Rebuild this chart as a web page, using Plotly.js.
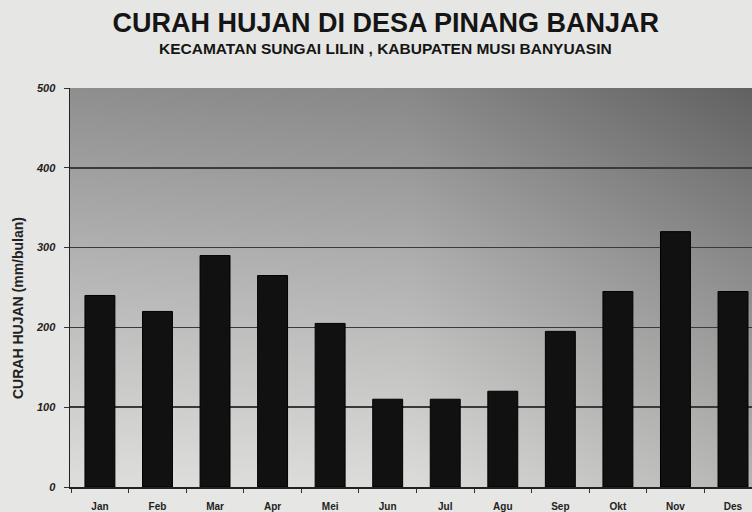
<!DOCTYPE html>
<html>
<head>
<meta charset="utf-8">
<script src="https://cdn.plot.ly/plotly-3.0.1.min.js"></script>
<style>html,body{margin:0;padding:0;background:#e6e6e4;}</style>
</head>
<body>
<div id="chart" style="width:752px;height:512px;"></div>
<script>
const months = ["Jan","Feb","Mar","Apr","Mei","Jun","Jul","Agu","Sep","Okt","Nov","Des"];
const rainfall = [240, 220, 290, 265, 205, 110, 110, 120, 195, 245, 320, 245];
const yTicks = [0, 100, 200, 300, 400, 500];

const grad = 'data:image/svg+xml;utf8,' + encodeURIComponent(
  '<svg xmlns="http://www.w3.org/2000/svg" width="100" height="100" preserveAspectRatio="none">' +
  '<defs><linearGradient id="g" x1="0" y1="0" x2="0" y2="1">' +
  '<stop offset="0" stop-color="#727272"/><stop offset="0.45" stop-color="#a2a2a2"/>' +
  '<stop offset="1" stop-color="#d6d6d4"/></linearGradient>' +
  '<linearGradient id="h" x1="0" y1="0" x2="1" y2="0">' +
  '<stop offset="0" stop-color="#ffffff" stop-opacity="0.2"/><stop offset="0.5" stop-color="#ffffff" stop-opacity="0.15"/>' +
  '<stop offset="1" stop-color="#000000" stop-opacity="0.15"/></linearGradient></defs>' +
  '<rect width="100" height="100" fill="url(#g)"/><rect width="100" height="100" fill="url(#h)"/></svg>');

const trace = {
  type: 'bar',
  x: months,
  y: rainfall,
  marker: {color: '#111111', line: {color: '#000000', width: 1}},
  width: 0.52,
  hoverinfo: 'x+y'
};

const FONT = 'Liberation Sans, Arial, sans-serif';

const layout = {
  width: 752, height: 512,
  margin: {l: 70, r: 0, t: 88, b: 25},
  paper_bgcolor: '#e6e6e4',
  plot_bgcolor: 'rgba(0,0,0,0)',
  font: {family: FONT, color: '#111'},
  title: {
    text: 'CURAH HUJAN DI DESA PINANG BANJAR',
    font: {family: FONT, size: 27, color: '#151515', weight: 'bold'},
    x: 0.463, xanchor: 'center', xref: 'paper',
    y: 0.955, yanchor: 'middle', yref: 'container'
  },
  annotations: [{
    text: '<b>KECAMATAN SUNGAI LILIN , KABUPATEN MUSI BANYUASIN</b>',
    xref: 'paper', yref: 'paper', x: 0.463, y: 1.098,
    xanchor: 'center', yanchor: 'middle', showarrow: false,
    font: {family: FONT, size: 15.5, color: '#151515'}
  }, {
    text: '<b>CURAH HUJAN (mm/bulan)</b>',
    xref: 'paper', yref: 'paper', x: -0.076, y: 0.449,
    xanchor: 'center', yanchor: 'middle', showarrow: false, textangle: -90,
    font: {family: FONT, size: 14, color: '#222'}
  }],
  images: [{
    source: grad, xref: 'paper', yref: 'paper', x: 0, y: 1,
    sizex: 1, sizey: 1, sizing: 'stretch', layer: 'below'
  }],
  xaxis: {
    type: 'category',
    range: [-0.52, 11.33],
    showline: true, linecolor: '#222', linewidth: 1.5,
    ticks: 'outside', tickson: 'boundaries', ticklen: 4, tickcolor: '#333',
    showgrid: false,
    tickfont: {size: 10, color: '#222', family: FONT, weight: 'bold'},
    ticklabelstandoff: 9
  },
  yaxis: {
    range: [0, 500],
    tickvals: yTicks,
    showline: true, linecolor: '#222', linewidth: 1.5,
    ticks: 'outside', ticklen: 5, tickcolor: '#333',
    showgrid: true, gridcolor: '#3a3a3a', gridwidth: 1.5,
    zeroline: false,
    tickfont: {size: 11, color: '#222', family: FONT, weight: 'bold', style: 'italic'},
    ticklabelstandoff: 6
  },
  bargap: 0.48,
  showlegend: false
};

Plotly.newPlot('chart', [trace], layout, {displayModeBar: false, staticPlot: true});
</script>
</body>
</html>
